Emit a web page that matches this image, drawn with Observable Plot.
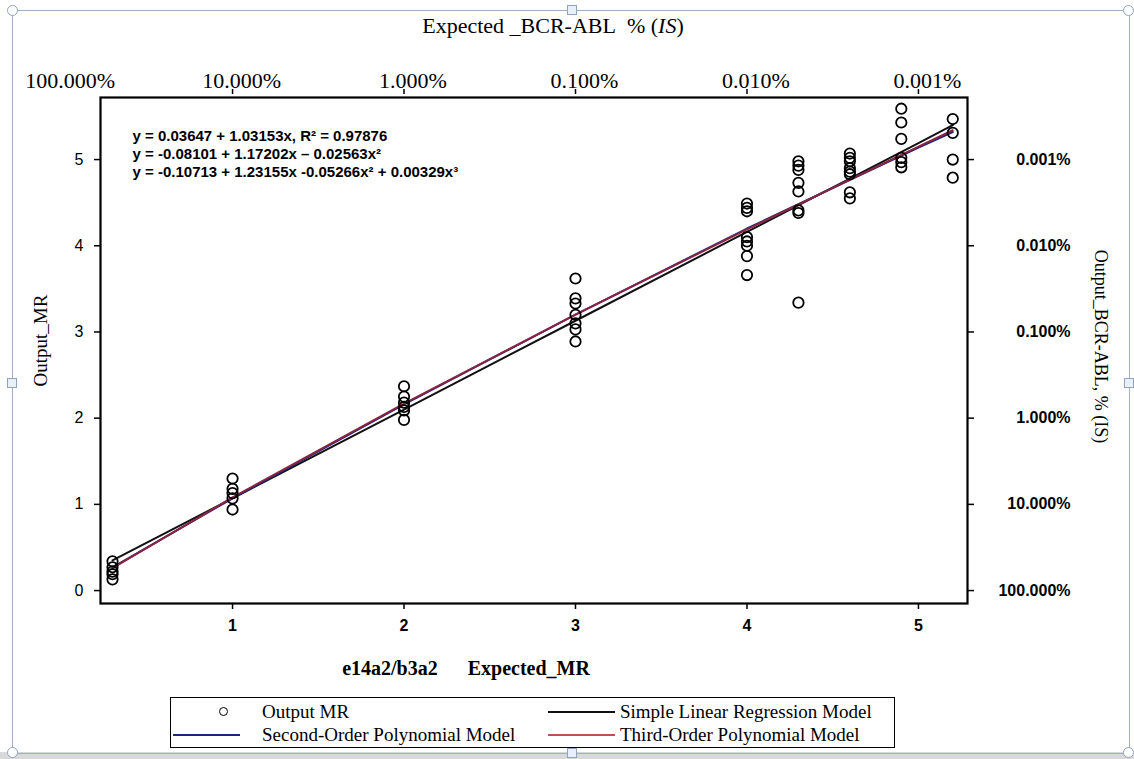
<!DOCTYPE html>
<html>
<head>
<meta charset="utf-8">
<script src="https://cdn.jsdelivr.net/npm/d3@7"></script>
<script src="https://cdn.jsdelivr.net/npm/@observablehq/plot@0.6"></script>
<style>
  html, body { margin: 0; padding: 0; background: #fff; }
  body { width: 1134px; height: 759px; overflow: hidden; position: relative; font-family: "Liberation Serif", serif; color: #000; }
  #title { position: absolute; top: 12px; left: 0; width: 1106px; text-align: center; font-size: 22px; line-height: 28px; }
  #chart { position: absolute; top: 45px; left: 0; }
  #legend { position: absolute; left: 170px; top: 697px; width: 723px; height: 49px; border: 1.5px solid #000; background: #fff; font-size: 19px; }
  #legend .t { position: absolute; line-height: 22px; white-space: nowrap; }
  #legend .ln { position: absolute; height: 2px; width: 67px; }
  #legend .mk { position: absolute; width: 7px; height: 7px; border: 1.8px solid #000; border-radius: 50%; }
  .sel { position: absolute; left: 12px; top: 10px; width: 1116px; height: 742px; border: 1px solid #9fb0c6; pointer-events: none; }
  .hc { position: absolute; width: 9px; height: 9px; border: 1px solid #8fa3bd; border-radius: 50%; background: #fff; }
  .hs { position: absolute; width: 8px; height: 8px; border: 1px solid #8fa3bd; background: #e8f0fa; }
  #strip { position: absolute; left: 0; top: 752px; width: 1134px; height: 7px; background: #d9d9d9; }
</style>
</head>
<body>
<div id="strip"></div>
<div class="sel"></div>
<div class="hc" style="left:7px;top:5px"></div>
<div class="hc" style="left:1123px;top:5px"></div>
<div class="hc" style="left:7px;top:747px"></div>
<div class="hc" style="left:1123px;top:747px"></div>
<div class="hs" style="left:567px;top:5px"></div>
<div class="hs" style="left:7px;top:378px"></div>
<div class="hs" style="left:1124px;top:378px"></div>
<div class="hs" style="left:567px;top:748px"></div>

<div id="title">Expected _BCR-ABL&nbsp; % (<i>IS</i>)</div>
<div id="chart"></div>
<div id="legend"></div>

<script>
// ---- data ----
const expectedLevels = [0.3, 1, 2, 3, 4, 4.3, 4.6, 4.9, 5.2];
const outputByLevel = [
  [0.34, 0.27, 0.22, 0.19, 0.13],
  [1.30, 1.18, 1.13, 1.07, 0.94],
  [2.37, 2.25, 2.18, 2.13, 2.09, 1.98],
  [3.62, 3.39, 3.33, 3.20, 3.10, 3.03, 2.89],
  [4.49, 4.44, 4.40, 4.10, 4.05, 4.00, 3.88, 3.66],
  [4.98, 4.93, 4.88, 4.73, 4.63, 4.41, 4.38, 3.34],
  [5.07, 5.02, 4.98, 4.90, 4.86, 4.83, 4.62, 4.55],
  [5.59, 5.43, 5.24, 5.02, 4.97, 4.91],
  [5.47, 5.31, 5.00, 4.79]
];

const fitX       = [0.3, 1, 2, 3, 4, 5, 5.2];
const linearFit  = [0.35, 1.07, 2.10, 3.13, 4.16, 5.19, 5.40];
const quadFit    = [0.27, 1.07, 2.16, 3.20, 4.20, 5.14, 5.32];
const cubicFit   = [0.26, 1.08, 2.17, 3.20, 4.19, 5.15, 5.34];

const mrTicks        = [0, 1, 2, 3, 4, 5];
const xTicks         = [1, 2, 3, 4, 5];
const percentLabels  = ["100.000%", "10.000%", "1.000%", "0.100%", "0.010%", "0.001%"];

const equations = [
  "y = 0.03647 + 1.03153x, R\u00b2 = 0.97876",
  "y = -0.08101 + 1.17202x \u2013 0.02563x\u00b2",
  "y = -0.10713 + 1.23155x -0.05266x\u00b2 + 0.00329x\u00b3"
];

const seriesNames  = ["Output MR", "Simple Linear Regression Model", "Second-Order Polynomial Model", "Third-Order Polynomial Model"];
const seriesColors = ["#000000", "#111111", "#1c2680", "#8a2440"];

const xTitle = "e14a2/b3a2\u00a0\u00a0\u00a0\u00a0\u00a0\u00a0Expected_MR";
const yTitle = "Output_MR";
const y2Title = "Output_BCR-ABL, % (IS)";

// ---- build tables ----
const points = expectedLevels.flatMap((lv, i) => outputByLevel[i].map(v => ({x: lv, y: v})));
const fitRows = (vals, name) => fitX.map((x, i) => ({x, y: vals[i], model: name}));
const linRows = fitRows(linearFit, seriesNames[1]);
const quadRows = fitRows(quadFit, seriesNames[2]);
const cubRows = fitRows(cubicFit, seriesNames[3]);

const serif = "Liberation Serif, serif";
const sans = "Liberation Sans, Arial, sans-serif";

const chart = Plot.plot({
  width: 1134,
  height: 635,
  marginTop: 52,
  marginLeft: 100,
  marginRight: 167,
  marginBottom: 77,
  style: {background: "transparent", fontFamily: sans, color: "#000"},
  x: {domain: [0.23, 5.286], axis: null},
  y: {domain: [-0.15, 5.72], axis: null},
  marks: [
    // fitted lines
    Plot.line(linRows, {x: "x", y: "y", stroke: seriesColors[1], strokeWidth: 2}),
    Plot.line(quadRows, {x: "x", y: "y", stroke: seriesColors[2], strokeWidth: 2}),
    Plot.line(cubRows, {x: "x", y: "y", stroke: seriesColors[3], strokeWidth: 2}),
    // observed points
    Plot.dot(points, {x: "x", y: "y", r: 5.2, stroke: "#000", strokeWidth: 1.8, fill: "none"}),
    // frame
    Plot.frame({stroke: "#000", strokeWidth: 2.2}),
    // left axis
    Plot.axisY({anchor: "left", ticks: mrTicks, tickFormat: "d", tickSize: 6, tickPadding: 11, fontSize: 16, label: null, strokeWidth: 1.5}),
    // bottom axis
    Plot.axisX({anchor: "bottom", ticks: xTicks, tickFormat: "d", tickSize: 6, tickPadding: 10, fontSize: 16, fontWeight: "bold", label: null, strokeWidth: 1.5}),
    // right axis ticks + percent labels
    Plot.axisY({anchor: "right", ticks: mrTicks, tickSize: 6, tickFormat: () => "", label: null, strokeWidth: 1.5}),
    Plot.text(mrTicks, {y: d => d, text: (d, i) => percentLabels[i], frameAnchor: "right", dx: 103, textAnchor: "end", fontSize: 16, fontWeight: "bold", fontFamily: sans}),
    // top axis ticks + percent labels
    Plot.axisX({anchor: "top", ticks: xTicks, tickSize: 5, tickFormat: () => "", label: null, strokeWidth: 1.5, dy: -4}),
    Plot.text(mrTicks, {x: d => d, text: (d, i) => percentLabels[i], frameAnchor: "top", textAnchor: "middle", dx: 9, dy: -25, fontSize: 22, fontFamily: serif}),
    // axis titles
    Plot.text([yTitle], {text: d => d, frameAnchor: "left", textAnchor: "middle", rotate: -90, dx: -60, dy: -10, fontSize: 19, fontFamily: serif}),
    Plot.text([y2Title], {text: d => d, frameAnchor: "right", textAnchor: "middle", rotate: 90, dx: 133, dy: -4, fontSize: 18, fontFamily: serif}),
    Plot.text([xTitle], {text: d => d, frameAnchor: "bottom", textAnchor: "middle", dx: -68, dy: 71, fontSize: 20, fontWeight: "bold", fontFamily: serif}),
    // equations
    Plot.text([equations.join("\n")], {text: d => d, frameAnchor: "top-left", textAnchor: "start", lineAnchor: "top", dx: 32, dy: 30, fontSize: 15, fontWeight: "bold", lineHeight: 1.23, fontFamily: sans})
  ]
});
document.getElementById("chart").append(chart);

// ---- legend ----
const legend = document.getElementById("legend");
const items = [
  {kind: "dot",  left: 48,  textLeft: 91,  top: 3,  i: 0},
  {kind: "line", left: 377, textLeft: 449, top: 3,  i: 1},
  {kind: "line", left: 2,   textLeft: 91,  top: 26, i: 2},
  {kind: "line", left: 377, textLeft: 449, top: 26, i: 3}
];
items.forEach(it => {
  if (it.kind === "dot") {
    const m = document.createElement("div");
    m.className = "mk";
    m.style.left = it.left + "px";
    m.style.top = (it.top + 6) + "px";
    legend.append(m);
  } else {
    const l = document.createElement("div");
    l.className = "ln";
    l.style.left = it.left + "px";
    l.style.top = (it.top + 10) + "px";
    l.style.background = it.i === 3 ? "#c0504d" : seriesColors[it.i];
    legend.append(l);
  }
  const t = document.createElement("div");
  t.className = "t";
  t.style.left = it.textLeft + "px";
  t.style.top = it.top + "px";
  t.textContent = seriesNames[it.i];
  legend.append(t);
});
</script>
</body>
</html>
